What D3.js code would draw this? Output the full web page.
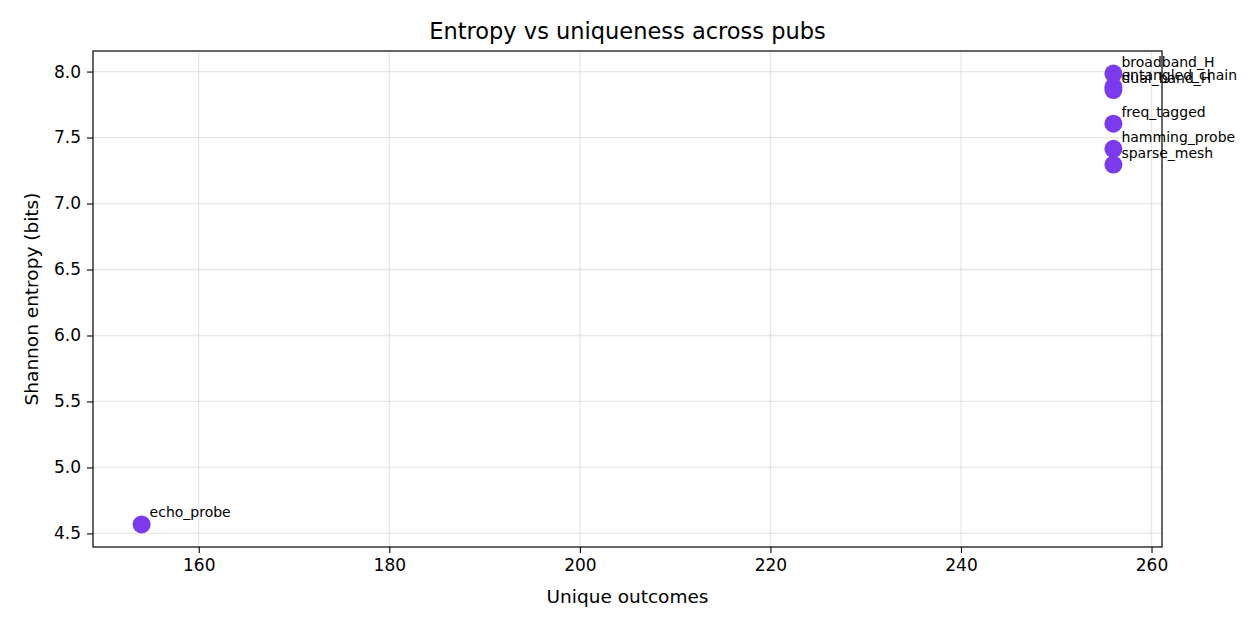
<!DOCTYPE html>
<html>
<head>
<meta charset="utf-8">
<script src="https://cdn.jsdelivr.net/npm/d3@7"></script>
<style>
  body { margin: 0; background: #fff; font-family: "DejaVu Sans", sans-serif; }
</style>
</head>
<body>
<div id="chart"></div>
<script>
// Data
const pubs = ['broadband_H', 'entangled_chain', 'dual_band_H', 'freq_tagged', 'hamming_probe', 'sparse_mesh', 'echo_probe'];
const uniqueOutcomes = [256, 256, 256, 256, 256, 256, 154];
const entropyBits = [7.985, 7.885, 7.86, 7.605, 7.415, 7.295, 4.568];
const xTicks = [160, 180, 200, 220, 240, 260];
const yTicks = [4.5, 5.0, 5.5, 6.0, 6.5, 7.0, 7.5, 8.0];

const data = pubs.map((p, i) => ({ name: p, x: uniqueOutcomes[i], y: entropyBits[i] }));

const svgWidth = 1260;
const svgHeight = 630;
const margin = { top: 51, right: 98, bottom: 83, left: 93 };
const width = svgWidth - margin.left - margin.right;
const height = svgHeight - margin.top - margin.bottom;

const svg = d3.select('#chart')
    .append('svg')
    .attr('width', svgWidth)
    .attr('height', svgHeight);

const g = svg.append('g')
    .attr('transform', `translate(${margin.left},${margin.top})`);

// 5% padding like matplotlib autoscale
const xExt = d3.extent(uniqueOutcomes);
const yExt = d3.extent(entropyBits);
const xPad = (xExt[1] - xExt[0]) * 0.05;
const yPad = (yExt[1] - yExt[0]) * 0.05;

const xScale = d3.scaleLinear()
    .domain([xExt[0] - xPad, xExt[1] + xPad])
    .range([0, width]);

const yScale = d3.scaleLinear()
    .domain([yExt[0] - yPad, yExt[1] + yPad])
    .range([height, 0]);

// Grid
g.append('g')
    .selectAll('line')
    .data(xTicks)
    .enter()
    .append('line')
    .attr('x1', d => xScale(d))
    .attr('x2', d => xScale(d))
    .attr('y1', 0)
    .attr('y2', height)
    .attr('stroke', '#b0b0b0')
    .attr('stroke-opacity', 0.3)
    .attr('stroke-width', 1.3);

g.append('g')
    .selectAll('line')
    .data(yTicks)
    .enter()
    .append('line')
    .attr('x1', 0)
    .attr('x2', width)
    .attr('y1', d => yScale(d))
    .attr('y2', d => yScale(d))
    .attr('stroke', '#b0b0b0')
    .attr('stroke-opacity', 0.3)
    .attr('stroke-width', 1.3);

// Axes
const styleAxis = a => {
    a.select('.domain').remove();
    a.selectAll('.tick line').attr('stroke', '#000').attr('stroke-width', 1.1);
    a.selectAll('.tick text')
        .attr('fill', '#000')
        .style('font-family', '"DejaVu Sans", sans-serif')
        .style('font-size', '17px');
};

g.append('g')
    .attr('transform', `translate(0,${height})`)
    .call(d3.axisBottom(xScale).tickValues(xTicks).tickFormat(d3.format('d')).tickSize(6).tickPadding(6))
    .call(styleAxis);

g.append('g')
    .call(d3.axisLeft(yScale).tickValues(yTicks).tickFormat(d3.format('.1f')).tickSize(6).tickPadding(6))
    .call(styleAxis);

// Frame
g.append('rect')
    .attr('width', width)
    .attr('height', height)
    .attr('fill', 'none')
    .attr('stroke', '#000')
    .attr('stroke-width', 1.2);

// Points
g.selectAll('circle.pt')
    .data(data)
    .enter()
    .append('circle')
    .attr('class', 'pt')
    .attr('cx', d => xScale(d.x))
    .attr('cy', d => yScale(d.y))
    .attr('r', 9)
    .attr('fill', '#7c3aed');

// Point labels
g.selectAll('text.lbl')
    .data(data)
    .enter()
    .append('text')
    .attr('class', 'lbl')
    .attr('x', d => xScale(d.x) + 8)
    .attr('y', d => yScale(d.y) - 7)
    .style('font-size', '14px')
    .style('fill', '#000')
    .text(d => d.name);

// Title and axis labels
svg.append('text')
    .attr('x', margin.left + width / 2)
    .attr('y', 39)
    .attr('text-anchor', 'middle')
    .style('font-size', '22.5px')
    .text('Entropy vs uniqueness across pubs');

svg.append('text')
    .attr('x', margin.left + width / 2)
    .attr('y', 603)
    .attr('text-anchor', 'middle')
    .style('font-size', '18.5px')
    .text('Unique outcomes');

svg.append('text')
    .attr('transform', `translate(38,${margin.top + height / 2}) rotate(-90)`)
    .attr('text-anchor', 'middle')
    .style('font-size', '18.5px')
    .text('Shannon entropy (bits)');
</script>
</body>
</html>
